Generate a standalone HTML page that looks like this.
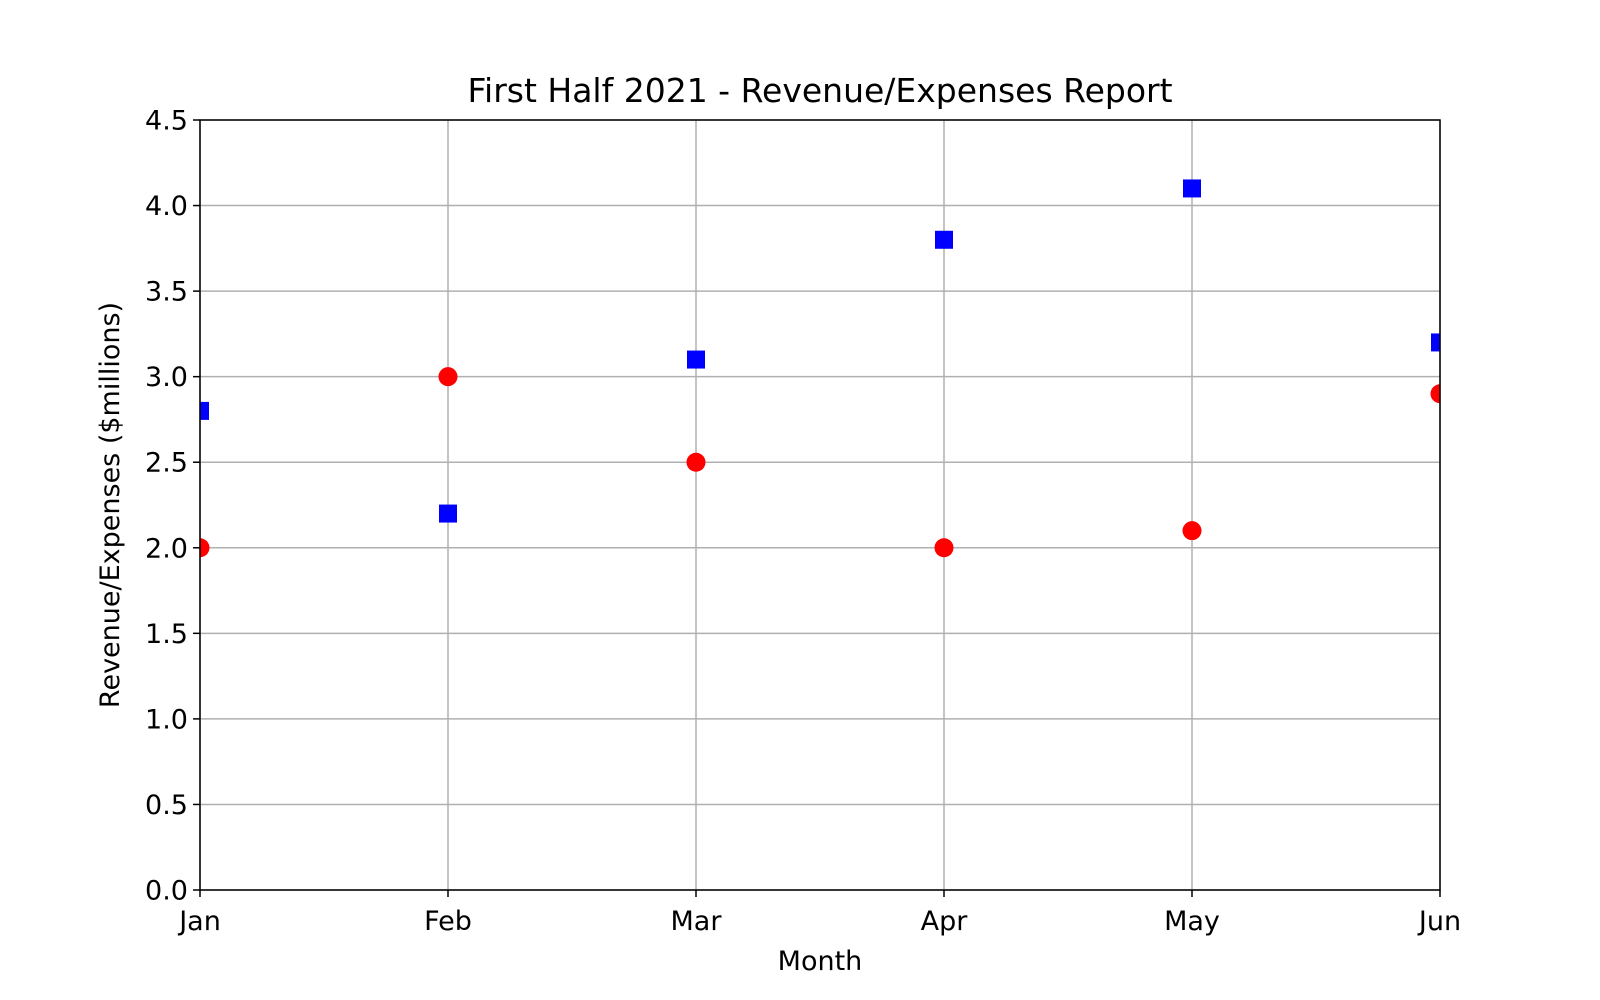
<!DOCTYPE html>
<html><head><meta charset="utf-8">
<style>
html,body{margin:0;padding:0;background:#fff;}
svg{display:block;font-family:"DejaVu Sans","Liberation Sans",sans-serif;}
</style></head>
<body>
<svg id="chart" width="1600" height="1000" viewBox="0 0 1600 1000">
<defs><clipPath id="plotclip"><rect x="200" y="120" width="1240" height="770"/></clipPath></defs>
<rect width="1600" height="1000" fill="#fff"/>
<text x="820" y="102" font-size="33" text-anchor="middle">First Half 2021 - Revenue/Expenses Report</text>
<g id="grid"></g>
<g id="ticks"></g>
<g id="marks" clip-path="url(#plotclip)"></g>
<rect x="200" y="120" width="1240" height="770" fill="none" stroke="#000" stroke-width="1.5"/>
<text x="820" y="970" font-size="27" text-anchor="middle">Month</text>
<text transform="translate(119,505) rotate(-90)" font-size="27" text-anchor="middle">Revenue/Expenses ($millions)</text>
</svg>
<script>
const months = ["Jan","Feb","Mar","Apr","May","Jun"];
const revenue = [2.8, 2.2, 3.1, 3.8, 4.1, 3.2];
const expenses = [2.0, 3.0, 2.5, 2.0, 2.1, 2.9];
const yTicks = [0.0,0.5,1.0,1.5,2.0,2.5,3.0,3.5,4.0,4.5];

const L=200,R=1440,T=120,B=890,yMax=4.5;
const xs=i=>L+i*(R-L)/(months.length-1);
const ys=v=>B-v/yMax*(B-T);
const NS="http://www.w3.org/2000/svg";
function mk(tag,attrs,parent){const e=document.createElementNS(NS,tag);for(const k in attrs)e.setAttribute(k,attrs[k]);parent.appendChild(e);return e;}
const grid=document.getElementById('grid'),ticks=document.getElementById('ticks'),marks=document.getElementById('marks');

yTicks.forEach(v=>{
  const y=ys(v);
  const g=mk('line',{x1:L,x2:R,y1:y,y2:y,stroke:'#b0b0b0','stroke-width':1.5},grid);
  
  
  const t=mk('line',{x1:L-7,x2:L,y1:y,y2:y,stroke:'#000','stroke-width':1.5},ticks);
  
  
  const lb=mk('text',{x:L-12,y:y+9.5,'font-size':27,'text-anchor':'end'},ticks);
  lb.textContent=v.toFixed(1);
  
  
});
months.forEach((m,i)=>{
  const x=xs(i);
  const g=mk('line',{x1:x,x2:x,y1:T,y2:B,stroke:'#b0b0b0','stroke-width':1.5},grid);
  
  
  const t=mk('line',{x1:x,x2:x,y1:B,y2:B+7,stroke:'#000','stroke-width':1.5},ticks);
  
  
  const lb=mk('text',{x:x,y:B+40,'font-size':27,'text-anchor':'middle'},ticks);
  lb.textContent=m;
  
  
});
revenue.forEach((v,i)=>{
  const s=18;
  const r=mk('rect',{x:xs(i)-s/2,y:ys(v)-s/2,width:s,height:s,fill:'#0000ff'},marks);
  
  
});
expenses.forEach((v,i)=>{
  const c=mk('circle',{cx:xs(i),cy:ys(v),r:9.5,fill:'#ff0000'},marks);
  
  
});
</script>
</body></html>
